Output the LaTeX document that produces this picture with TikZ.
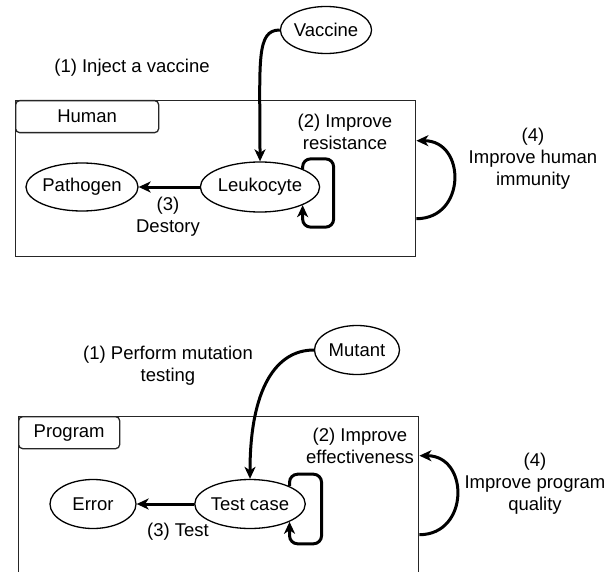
\documentclass[tikz,border=0pt]{standalone}
\usepackage{fontspec}
\setmainfont{Liberation Sans}
\usetikzlibrary{arrows.meta,calc,shapes.geometric}
\tikzset{frame/.style={draw=black!85,line width=1.4pt,minimum width=400pt,inner sep=0pt,anchor=north west},tab/.style={draw=black!85,line width=1.3pt,rounded corners=4pt,anchor=north west,minimum height=32pt,inner sep=0pt,font=\fontsize{18.5}{22}\selectfont},oval/.style={ellipse,draw=black,line width=1.3pt,inner sep=0pt,minimum height=48pt,font=\fontsize{18.5}{22}\selectfont},arrow/.style={-{Stealth[length=12pt,width=11pt,inset=3.5pt]},line width=3pt},lab/.style={align=center,inner sep=0pt,font=\fontsize{18.5}{22}\selectfont}}

\begin{document}
\begin{tikzpicture}[x=1pt,y=-1pt]
\useasboundingbox (0,0) rectangle (615,572);
% human side
\node[frame,minimum height=156pt] (hbox) at (15,100) {};
\node[tab,minimum width=143pt] (htab) at (15,100) {Human};
\node[oval,minimum width=86pt,minimum height=47pt] (vac) at (326,30) {Vaccine};
\node[oval,minimum width=106pt,minimum height=50pt] (leuk) at (260,187) {Leukocyte};
\node[oval,minimum width=101pt] (path) at (82,187) {Pathogen};
\node[lab] (l1) at (132,68) {(1) Inject a vaccine};
\node[lab] (l2) at (345,132) {(2) Improve\\resistance};
\node[lab] (l3) at (168,217) {(3)\\Destory};
\node[lab] (l4) at (533,159) {(4)\\Improve human\\immunity};
\draw[arrow](vac.west) .. controls +(-24,0) and +(0,-100) .. (leuk.north);
\draw[arrow](leuk)--(path);
\draw[arrow,rounded corners=8pt](leuk.north east) |- ++(31,-10) |- ($(leuk.south east)+(0,22)$) -- (leuk.south east);
\draw[arrow]([yshift=-40pt]hbox.east) .. controls +(50,0) and +(50,0) .. ([yshift=38pt]hbox.east);
% program side
\node[frame,minimum height=164pt] (pbox) at (18,416) {};
\node[tab,minimum width=101pt] (ptab) at (18,416) {Program};
\node[oval,minimum width=85pt,minimum height=49pt] (mut) at (357,350) {Mutant};
\node[oval,minimum width=85pt,minimum height=49pt] (tc) at (250,504) {Test case};
\node[oval,minimum width=86pt,minimum height=49pt] (err) at (93,504) {Error};
\node[lab] (m1) at (168,366) {(1) Perform mutation\\testing};
\node[lab] (m2) at (360,446) {(2) Improve\\effectiveness};
\node[lab] (m3) at (178,532) {(3) Test};
\node[lab] (m4) at (535,484) {(4)\\Improve program\\quality};
\draw[arrow](mut.west) .. controls +(-38,0) and +(0,-90) .. (tc.north);
\draw[arrow](tc)--(err);
\draw[arrow,rounded corners=8pt](tc.north east) |- ++(32,-12) |- ($(tc.south east)+(0,22)$) -- (tc.south east);
\draw[arrow]([yshift=-36pt]pbox.east) .. controls +(50,0) and +(50,0) .. ([yshift=43pt]pbox.east);
\end{tikzpicture}
\end{document}
